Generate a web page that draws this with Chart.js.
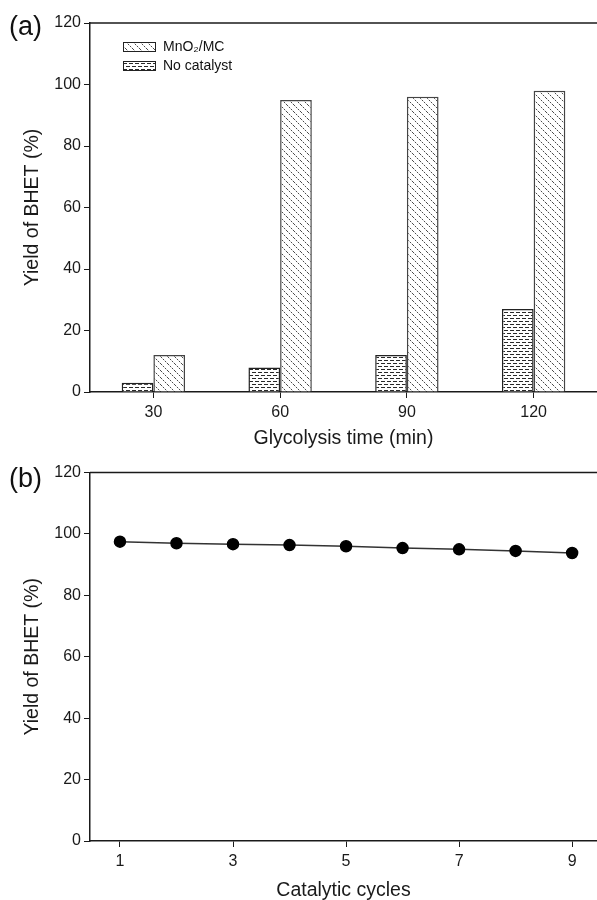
<!DOCTYPE html>
<html>
<head>
<meta charset="utf-8">
<script src="https://cdn.jsdelivr.net/npm/chart.js@4/dist/chart.umd.min.js"></script>
<style>
body{margin:0;background:#fff;width:597px;height:900px;position:relative;overflow:hidden;font-family:Arial,"Liberation Sans",sans-serif;}
canvas{position:absolute;left:0;}
#a{top:0;}
#b{top:460px;}
.tag{position:absolute;left:9px;font-size:27px;color:#111;line-height:1;}
</style>
</head>
<body>
<canvas id="a" width="597" height="460"></canvas>
<canvas id="b" width="597" height="442"></canvas>
<div class="tag" style="top:13px">(a)</div>
<div class="tag" style="top:465px">(b)</div>
<script>
document.addEventListener("DOMContentLoaded", () => {

// panel (a)
const times = ["30", "60", "90", "120"];
const noCatalyst = [3, 8, 12, 27];
const mno2 = [12, 95, 96, 98];

// panel (b)
const cycles = [1, 2, 3, 4, 5, 6, 7, 8, 9];
const cycleYield = [97.5, 97.0, 96.7, 96.4, 96.0, 95.4, 95.0, 94.5, 93.8];
const cycleTicks = [1, 3, 5, 7, 9];

const ink = "#1a1a1a";
const font = "Arial, 'Liberation Sans', sans-serif";

const ctxA = document.getElementById("a").getContext("2d");
const ctxB = document.getElementById("b").getContext("2d");

function tile(size, draw){
const c = document.createElement("canvas");
c.width = size; c.height = size;
const g = c.getContext("2d");
g.fillStyle = "#fff";
g.fillRect(0, 0, size, size);
draw(g);
return ctxA.createPattern(c, "repeat");
}

// dotted "\" hatching
const hatch = tile(7, g => {
for(let i=0;i<7;i++){
g.fillStyle = i%2 ? "#cfcfcf" : "#4a4a4a";
g.fillRect(i, i, 1, 1);
}
});
// dashed brick rows
const brick = tile(6, g => {
g.fillStyle = "#2a2a2a";
g.fillRect(0, 0, 4, 1);
g.fillRect(3, 3, 3, 1);
g.fillRect(0, 3, 1, 1);
});

function yAxis(){
return {
min:0, max:120,
ticks:{stepSize:20, color:ink, font:{family:font, size:16}, padding:3},
grid:{drawOnChartArea:false, tickLength:6, color:ink, lineWidth:1},
border:{color:ink, width:1.5},
title:{display:true, text:"Yield of BHET (%)", color:ink, font:{family:font, size:19.5}, padding:{top:21, bottom:0}},
afterFit:s => { s.width = 90; }
};
}

function xTitle(text){
return {display:true, text, color:ink, font:{family:font, size:19.5}, padding:{top:0, bottom:0}};
}

const topLine = {
id:"topLine",
afterDraw(chart){
const {ctx, chartArea} = chart;
ctx.save();
ctx.strokeStyle = ink;
ctx.lineWidth = 1.5;
ctx.beginPath();
ctx.moveTo(chartArea.left, chartArea.top);
ctx.lineTo(chartArea.right, chartArea.top);
ctx.stroke();
ctx.restore();
}
};

const boxLegend = {
id:"boxLegend",
afterDraw(chart){
const ctx = chart.ctx;
const order = [1, 0];
ctx.save();
ctx.font = "14px " + font;
ctx.textBaseline = "middle";
order.forEach((di, i) => {
const ds = chart.data.datasets[di];
const y = 42 + i * 19;
ctx.fillStyle = ds.backgroundColor;
ctx.fillRect(123, y, 33, 10);
ctx.strokeStyle = "#222";
ctx.lineWidth = 1;
ctx.strokeRect(123.5, y + 0.5, 32, 9);
ctx.fillStyle = "#111";
ctx.fillText(ds.label, 163, y + 5);
});
ctx.restore();
}
};

new Chart(ctxA, {
type:"bar",
data:{
labels:times,
datasets:[
{label:"No catalyst", data:noCatalyst, backgroundColor:brick, borderColor:"#222", borderWidth:1.5, barPercentage:1, categoryPercentage:0.5},
{label:"MnO₂/MC", data:mno2, backgroundColor:hatch, borderColor:"#444", borderWidth:1.5, barPercentage:1, categoryPercentage:0.5}
]
},
options:{
responsive:false, animation:false, devicePixelRatio:1,
layout:{autoPadding:false, padding:{top:23, left:0, right:0, bottom:10}},
plugins:{legend:{display:false}, tooltip:{enabled:false}},
scales:{
x:{
ticks:{color:ink, font:{family:font, size:16}, padding:5},
grid:{offset:false, drawOnChartArea:false, tickLength:6, color:ink, lineWidth:1},
border:{color:ink, width:1.5},
title:xTitle("Glycolysis time (min)"),
afterFit:s => { s.height = 58; }
},
y:yAxis()
}
},
plugins:[topLine, boxLegend]
});

new Chart(ctxB, {
type:"line",
data:{
datasets:[{
label:"Yield",
data:cycles.map((c, i) => ({x:c, y:cycleYield[i]})),
borderColor:"#333", borderWidth:1.5,
pointBackgroundColor:"#000", pointBorderColor:"#000",
pointRadius:5.5, tension:0
}]
},
options:{
responsive:false, animation:false, devicePixelRatio:1,
layout:{autoPadding:false, padding:{top:12, left:0, right:0, bottom:0}},
plugins:{legend:{display:false}, tooltip:{enabled:false}},
scales:{
x:{
type:"linear", min:0.47, max:9.44,
afterBuildTicks:s => { s.ticks = cycleTicks.map(v => ({value:v})); },
ticks:{color:ink, font:{family:font, size:16}, padding:5},
grid:{drawOnChartArea:false, tickLength:6, color:ink, lineWidth:1},
border:{color:ink, width:1.5},
title:xTitle("Catalytic cycles"),
afterFit:s => { s.height = 61; }
},
y:yAxis()
}
},
plugins:[topLine]
});

});
</script>
</body>
</html>
